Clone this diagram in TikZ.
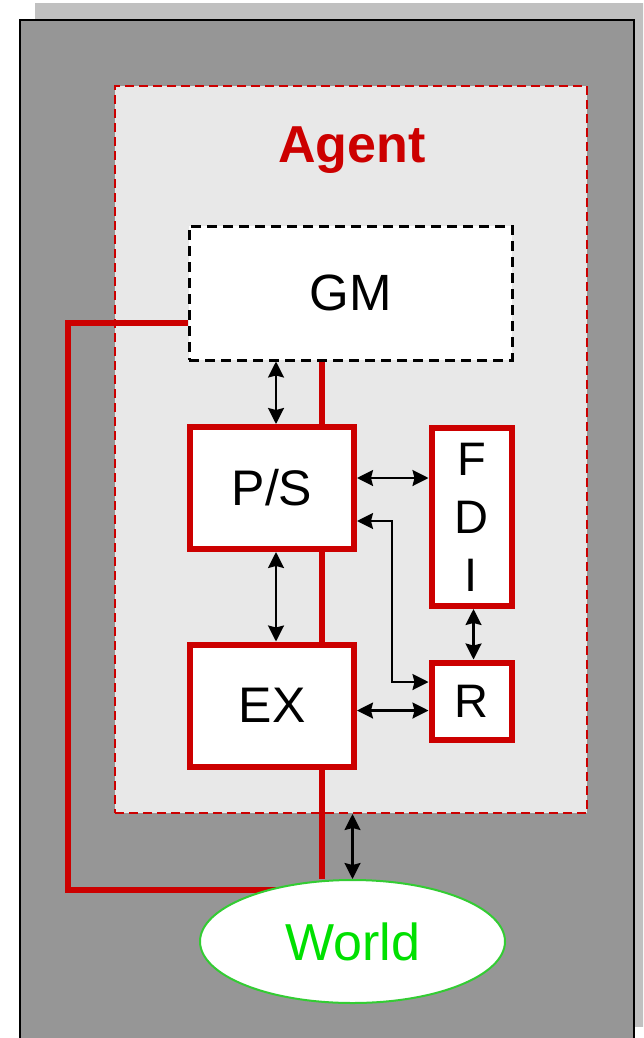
\documentclass[tikz,border=0pt]{standalone}
\usepackage{fontspec}
\setmainfont{Liberation Sans}
\usepackage{xcolor}
\usetikzlibrary{arrows.meta, shapes.geometric}
\definecolor{shadowgray}{HTML}{C0C0C0}
\definecolor{outergray}{HTML}{969696}
\definecolor{agentgray}{HTML}{E8E8E8}
\definecolor{agentred}{HTML}{CC0000}
\definecolor{worldgreen}{HTML}{33CC33}
\definecolor{worldtext}{HTML}{00E000}

\begin{document}
\begin{tikzpicture}[x=1pt, y=-1pt,
    >={Stealth[length=16pt, width=16pt, inset=2pt]},
    blockbox/.style={draw=agentred, line width=6pt, fill=white, inner sep=0pt, font=\fontsize{50}{58}\selectfont},
    redline/.style={agentred, line width=6pt},
    link/.style={<->, line width=2.2pt}]
    \clip (0,0) rectangle (643,1038);
    \fill[shadowgray] (35,3) rectangle (660,1027);
    \draw[fill=outergray, line width=2pt] (20,20) rectangle (634,1060);

    \node[draw=agentred, fill=agentgray, line width=2pt, dash pattern=on 9pt off 5pt, minimum width=472pt, minimum height=727pt] (agent) at (351,449.5) {};
    \node[text=agentred, font=\fontsize{52}{62}\selectfont\bfseries] (agentlabel) at (352,150) {Agent};

    \node[draw, fill=white, line width=3pt, dash pattern=on 10pt off 6pt, minimum width=323pt, minimum height=134pt, font=\fontsize{51}{60}\selectfont] (GM) at (350.5,293) {GM};
    \node[blockbox, minimum width=164pt, minimum height=122pt] (PS) at (272,488) {P/S};
    \node[blockbox, minimum width=164pt, minimum height=122pt] (EX) at (272,705.5) {EX};
    \node[blockbox, minimum width=80pt, minimum height=178pt, align=center, font=\fontsize{47}{58}\selectfont] (FDI) at (471.5,517) {F\\D\\I};
    \node[blockbox, minimum width=80pt, minimum height=77pt, font=\fontsize{47}{58}\selectfont] (R) at (471.5,701) {R};

    \draw[redline] ([xshift=50pt]PS.north |- GM.south) -- ([xshift=50pt]PS.north);
    \draw[redline] ([xshift=50pt]PS.south) -- ([xshift=50pt]EX.north);

    \coordinate (loopcorner) at (68,890);
    \coordinate (loopend) at (300,890);
    \draw[redline] ([yshift=-30pt]GM.west) -| (loopcorner) -- (loopend);

    \node[ellipse, draw=worldgreen, fill=white, line width=2pt, inner sep=0pt, minimum width=305pt, minimum height=123pt, text=worldtext, font=\fontsize{52}{60}\selectfont] (World) at (352.5,941.5) {World};
    \draw[redline] ([xshift=50pt]EX.south) -- ([xshift=50pt]EX.south |- World.north);

    \draw[link] ([xshift=4pt]PS.north |- GM.south) -- ([xshift=4pt]PS.north);
    \draw[link] ([xshift=4pt]PS.south) -- ([xshift=4pt]EX.north);
    \draw[link] ([yshift=10pt]PS.east) -- ([yshift=10pt]PS.east -| FDI.west);
    \draw[link] ([yshift=-33pt]PS.east) -- ++(35,0) |- ([yshift=19pt]R.west);
    \draw[link] ([xshift=2pt]FDI.south) -- ([xshift=2pt]R.north);
    \draw[link] ([yshift=-5pt]EX.east) -- ([yshift=-5pt]EX.east -| R.west);
    \draw[link] (agent.south -| World.north) -- (World.north);
\end{tikzpicture}
\end{document}
